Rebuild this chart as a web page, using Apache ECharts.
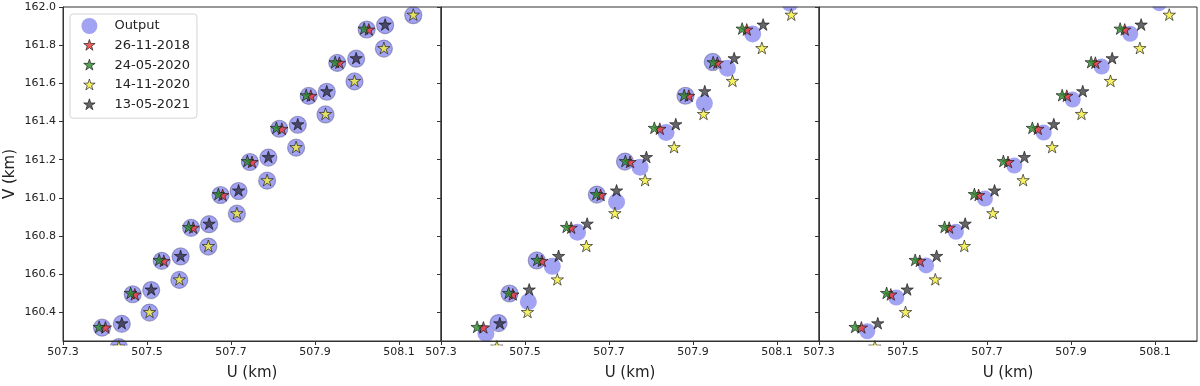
<!DOCTYPE html>
<html><head><meta charset="utf-8">
<script src="https://cdn.jsdelivr.net/npm/echarts@6/dist/echarts.min.js"></script>
<style>html,body{margin:0;padding:0;background:#fff}#c{width:1200px;height:386px}</style>
</head><body><div id="c"></div>
<script>
// ---- tick labels ----
const xTicks = [507.3, 507.5, 507.7, 507.9, 508.1];
const yTicks = [160.4, 160.6, 160.8, 161.0, 161.2, 161.4, 161.6, 161.8, 162.0];
const legendNames = ['Output', '26-11-2018', '24-05-2020', '14-11-2020', '13-05-2021'];

// ---- observed positions [U, V] (km) ----
const obs20181126 = [[507.401,160.318],[507.471,160.491],[507.540,160.667],[507.610,160.841],[507.680,161.012],[507.750,161.185],[507.821,161.359],[507.890,161.532],[507.958,161.705],[508.028,161.879]];
const obs20200524 = [[507.386,160.321],[507.461,160.499],[507.529,160.672],[507.599,160.845],[507.670,161.017],[507.739,161.190],[507.808,161.364],[507.879,161.535],[507.948,161.708],[508.017,161.884]];
const obs20201114 = [[507.433,160.218],[507.506,160.399],[507.577,160.570],[507.646,160.745],[507.714,160.917],[507.786,161.090],[507.855,161.263],[507.925,161.437],[507.994,161.610],[508.064,161.782],[508.134,161.957]];
const obs20210513 = [[507.440,160.340],[507.510,160.517],[507.580,160.693],[507.648,160.862],[507.718,161.036],[507.789,161.211],[507.859,161.383],[507.928,161.556],[507.998,161.729],[508.067,161.905]];

// ---- model output per panel ----
const outputPanel1 = [
  [507.393,160.320],[507.466,160.495],[507.535,160.670],[507.605,160.843],[507.675,161.015],[507.745,161.188],[507.815,161.362],[507.885,161.534],[507.953,161.707],[508.023,161.882],
  [507.440,160.340],[507.510,160.517],[507.580,160.693],[507.648,160.862],[507.718,161.036],[507.789,161.211],[507.859,161.383],[507.928,161.556],[507.998,161.729],[508.067,161.905],
  [507.433,160.218],[507.506,160.399],[507.577,160.570],[507.646,160.745],[507.714,160.917],[507.786,161.090],[507.855,161.263],[507.925,161.437],[507.994,161.610],[508.064,161.782],[508.134,161.957]
];
const outputPanel2Edged = [[507.437,160.344],[507.463,160.499],[507.528,160.672],[507.671,161.017],[507.738,161.190],[507.882,161.535],[507.947,161.712]];
const outputPanel2Plain = [[507.407,160.289],[507.508,160.456],[507.565,160.641],[507.625,160.820],[507.718,160.978],[507.774,161.161],[507.836,161.342],[507.927,161.496],[507.982,161.679],[508.042,161.858],[508.131,162.02]];
const outputPanel3 = [[507.415,160.301],[507.484,160.478],[507.555,160.646],[507.626,160.822],[507.695,160.996],[507.765,161.169],[507.835,161.342],[507.904,161.515],[507.973,161.688],[508.041,161.860],[508.110,162.02]];

const FONT = 'DejaVu Sans';
const STAR_PTS = 'M0,-100L22.45,-30.9L95.11,-30.9L36.33,11.8L58.78,80.9L0,38.2L-58.78,80.9L-36.33,11.8L-95.11,-30.9L-22.45,-30.9Z';
const STAR = 'path://M-100,-100M100,100' + STAR_PTS;
const STAR_LEG = 'path://M-133,-133M133,133' + STAR_PTS;

const circleFill = '#a3a3f3';
const starColors = {
  '26-11-2018': '#ee3434',
  '24-05-2020': '#2c8c2c',
  '14-11-2020': '#f2ee3c',
  '13-05-2021': 'rgba(30,30,36,0.85)'
};
const obsByName = {
  '26-11-2018': obs20181126,
  '24-05-2020': obs20200524,
  '14-11-2020': obs20201114,
  '13-05-2021': obs20210513
};

const lefts = [63, 441, 819];
const grids = lefts.map(l => ({left: l, top: 7, width: 378, height: 338, show: true, borderColor: '#333', borderWidth: 1, backgroundColor: 'transparent', z: 5}));

const xAxes = lefts.map((l, i) => ({
  type: 'value', gridIndex: i, min: 507.3, max: 508.2, z: 5,
  axisLine: {show: true, lineStyle: {color: '#333', width: 1}},
  axisTick: {show: true, inside: false, length: 4, customValues: xTicks, lineStyle: {color: '#333'}},
  axisLabel: {customValues: xTicks, formatter: v => v.toFixed(1), fontSize: 11, color: '#222', margin: 6, fontFamily: FONT},
  splitLine: {show: false},
  name: 'U (km)', nameLocation: 'middle', nameGap: 25,
  nameTextStyle: {fontSize: 15, color: '#222', fontFamily: FONT}
}));
const yAxes = lefts.map((l, i) => ({
  type: 'value', gridIndex: i, min: 160.25, max: 162.0, z: 5,
  axisLine: {show: true, lineStyle: {color: '#333', width: 1}},
  axisTick: {show: true, inside: false, length: 4, customValues: yTicks, lineStyle: {color: '#333'}},
  axisLabel: {show: i === 0, customValues: yTicks, formatter: v => v.toFixed(1), fontSize: 11, color: '#222', margin: 7, fontFamily: FONT},
  splitLine: {show: false},
  name: i === 0 ? 'V (km)' : '', nameLocation: 'middle', nameGap: 45, nameRotate: 90,
  nameTextStyle: {fontSize: 15, color: '#222', fontFamily: FONT}
}));

function outSeries(data, i, edged, size) {
  return {
    name: 'Output', type: 'scatter', xAxisIndex: i, yAxisIndex: i, data: data,
    symbol: 'circle', symbolSize: size, clip: false, z: 2,
    itemStyle: {color: circleFill, borderColor: edged ? 'rgba(95,95,150,0.55)' : circleFill, borderWidth: edged ? 1.2 : 0, opacity: 1},
    emphasis: {disabled: true}
  };
}
function starSeries(name, i) {
  return {
    name: name, type: 'scatter', xAxisIndex: i, yAxisIndex: i, data: obsByName[name],
    symbol: STAR, symbolSize: 13, clip: false, z: 2,
    itemStyle: {color: starColors[name], borderColor: '#111', borderWidth: 0.8},
    emphasis: {disabled: true}
  };
}

const series = [];
series.push(outSeries(outputPanel1, 0, true, 17));
series.push(outSeries(outputPanel2Edged, 1, true, 17));
series.push(outSeries(outputPanel2Plain, 1, false, 17));
series.push(outSeries(outputPanel3, 2, false, 16));
for (let i = 0; i < 3; i++) {
  ['26-11-2018', '24-05-2020', '14-11-2020', '13-05-2021'].forEach(n => series.push(starSeries(n, i)));
}
// white masks outside the plot areas (marks are clipped at the frame, as in the original)
series.push({
  type: 'custom', coordinateSystem: 'none', data: [0], z: 3, silent: true,
  renderItem: function () {
    return {
      type: 'group',
      children: [
        {type: 'rect', shape: {x: 0, y: 0, width: 1200, height: 6.5}, style: {fill: '#fff'}},
        {type: 'rect', shape: {x: 0, y: 345.5, width: 1200, height: 41}, style: {fill: '#fff'}}
      ]
    };
  }
});

const option = {
  backgroundColor: '#fff',
  animation: false,
  textStyle: {fontFamily: FONT},
  grid: grids,
  xAxis: xAxes,
  yAxis: yAxes,
  legend: {
    data: legendNames.map((n, k) => k === 0
      ? {name: n, icon: 'circle', itemStyle: {color: circleFill, borderWidth: 0}}
      : {name: n, icon: STAR_LEG, itemStyle: {color: starColors[n], borderColor: '#111', borderWidth: 0.8}}),
    orient: 'vertical', left: 70, top: 14, z: 10,
    itemWidth: 16, itemHeight: 16, itemGap: 3,
    padding: [4, 7, 5, 11],
    backgroundColor: 'rgba(255,255,255,0.85)', borderColor: '#d4d4d4', borderWidth: 1, borderRadius: 3,
    textStyle: {fontSize: 13, color: '#222', fontFamily: FONT, padding: [0, 0, 0, 12], lineHeight: 16},
    selectedMode: false
  },
  series: series
};

const chart = echarts.init(document.getElementById('c'), null, {renderer: 'canvas'});
chart.setOption(option);
</script></body></html>
